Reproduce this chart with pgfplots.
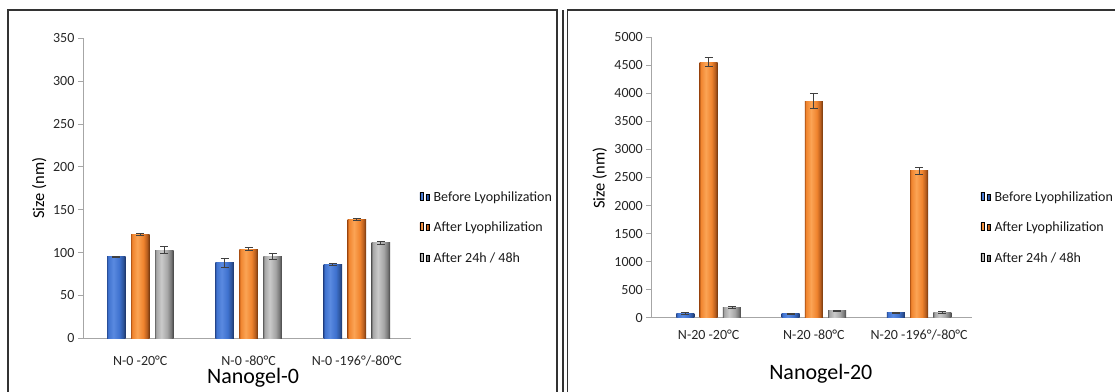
\documentclass[border=0pt]{standalone}
\usepackage{fontspec}
\setmainfont{Carlito}
\usepackage{pgfplots}
\pgfplotsset{compat=1.18}
\usepackage{pgfplotstable}

\definecolor{axgray}{HTML}{A6A6A6}
\definecolor{framec}{HTML}{333333}
\definecolor{errc}{HTML}{404040}

\definecolor{blL}{HTML}{2A4F9A}
\definecolor{blB}{HTML}{3F72CF}
\definecolor{blM}{HTML}{5A8AE0}
\definecolor{blD}{HTML}{2E569E}
\definecolor{blR}{HTML}{1C3466}
\definecolor{orL}{HTML}{B85A18}
\definecolor{orB}{HTML}{F0842E}
\definecolor{orM}{HTML}{FBA455}
\definecolor{orD}{HTML}{B85E1E}
\definecolor{orR}{HTML}{6E340C}
\definecolor{grL}{HTML}{6E6E6E}
\definecolor{grB}{HTML}{A6A6A6}
\definecolor{grM}{HTML}{CACACA}
\definecolor{grD}{HTML}{7A7A7A}
\definecolor{grR}{HTML}{444444}

\pgfdeclarehorizontalshading{sblue}{100bp}{color(0bp)=(blL); color(25bp)=(blL); color(28bp)=(blB); color(42bp)=(blM); color(58bp)=(blB); color(68bp)=(blD); color(75bp)=(blR); color(100bp)=(blR)}
\pgfdeclarehorizontalshading{sorange}{100bp}{color(0bp)=(orL); color(25bp)=(orL); color(28bp)=(orB); color(42bp)=(orM); color(58bp)=(orB); color(68bp)=(orD); color(75bp)=(orR); color(100bp)=(orR)}
\pgfdeclarehorizontalshading{sgray}{100bp}{color(0bp)=(grL); color(25bp)=(grL); color(28bp)=(grB); color(42bp)=(grM); color(58bp)=(grB); color(68bp)=(grD); color(75bp)=(grR); color(100bp)=(grR)}

% Nanogel-0
\pgfplotstableread{
x y e
0 95 0.8
1 88 5
2 86 1
}\ngzbefore
\pgfplotstableread{
x y e
0 121 1
1 104 2
2 138.5 1.5
}\ngzafter
\pgfplotstableread{
x y e
0 103 4
1 96 3.5
2 111.5 1.5
}\ngzday
% Nanogel-20
\pgfplotstableread{
x y e
0 75 10
1 72 10
2 85 10
}\ngtbefore
\pgfplotstableread{
x y e
0 4555 80
1 3860 130
2 2620 65
}\ngtafter
\pgfplotstableread{
x y e
0 185 20
1 120 15
2 88 20
}\ngtday

\pgfplotsset{
  common/.style={
    scale only axis,
    anchor=south west,
    axis x line*=bottom,
    axis y line*=left,
    axis line style={axgray, line width=0.8bp, -},
    xtick={0,1,2},
    xtick style={draw=none},
    ytick style={axgray, line width=0.8bp},
    major tick length=5bp,
    tick align=outside,
    ymin=0,
    xmax=2.5,
    /pgf/number format/assume math mode=true,
    /pgf/number format/1000 sep={},
    tick label style={font=\fontsize{14bp}{16bp}\selectfont, text=black!85},
    label style={text=black!90},
    every axis y label/.style={rotate=90, anchor=center, font=\fontsize{16.5bp}{18bp}\selectfont},
    every axis x label/.style={anchor=base, font=\fontsize{22bp}{24bp}\selectfont},
    legend cell align=left,
    legend style={draw=none, fill=none, inner sep=0pt, row sep=16.8bp,
      font=\fontsize{14bp}{16bp}\selectfont, text=black!90,
      nodes={text height=10bp, text depth=3.5bp, inner xsep=4.5bp, inner ysep=0bp}},
    legend image code/.code={\path[##1] (0bp,-0.5bp) rectangle (8bp,9.5bp);},
    error bars/y dir=both,
    error bars/y explicit,
    error bars/error bar style={errc, line width=0.9bp},
    error bars/error mark options={rotate=90, errc, mark size=4bp, line width=0.9bp},
  },
  bblue/.style={draw=none, shade, shading=sblue, shading angle=0},
  borange/.style={draw=none, shade, shading=sorange, shading angle=0},
  bgray/.style={draw=none, shade, shading=sgray, shading angle=0},
  b0/.style={restrict x to domain=-0.2:0.2},
  b1/.style={restrict x to domain=0.8:1.2},
  b2/.style={restrict x to domain=1.8:2.2},
}

\begin{document}
\begin{tikzpicture}
\useasboundingbox (0,0) rectangle (1115bp,392bp);

% frames
\draw[framec, line width=1.6bp] (8bp,-10bp) -- (8bp,382bp) -- (557bp,382bp) -- (557bp,-10bp);
\draw[framec, line width=1.2bp] (563bp,-10bp) -- (563bp,382bp);
\draw[framec, line width=1.4bp] (567.5bp,-10bp) -- (567.5bp,382bp) -- (1125bp,382bp);

% Left: Nanogel-0
\begin{axis}[common,
  at={(82.9bp,53.7bp)}, width=328.1bp, height=300bp,
  xmin=-0.53, ymax=350, ytick={0,50,...,350},
  ybar=5.5bp, bar width=18.5bp,
  xticklabels={N-0 -20°C, N-0 -80°C, N-0 -196°/-80°C},
  xticklabel style={yshift=-9bp},
  ylabel={Size (nm)},
  ylabel style={at={(axis description cs:-0.133,0.5)}},
  xlabel={Nanogel-0},
  xlabel style={at={(axis description cs:0.5185,-0.152)}},
  legend style={at={(1.026,0.490)}, anchor=north west},
]
\addplot[bblue, bar shift=-24bp, b0] table[x=x, y=y, y error=e] {\ngzbefore};
\addlegendentry{Before Lyophilization}
\addplot[bblue, bar shift=-24bp, b1, forget plot] table[x=x, y=y, y error=e] {\ngzbefore};
\addplot[bblue, bar shift=-24bp, b2, forget plot] table[x=x, y=y, y error=e] {\ngzbefore};
\addplot[borange, bar shift=0bp, b0] table[x=x, y=y, y error=e] {\ngzafter};
\addlegendentry{After Lyophilization}
\addplot[borange, bar shift=0bp, b1, forget plot] table[x=x, y=y, y error=e] {\ngzafter};
\addplot[borange, bar shift=0bp, b2, forget plot] table[x=x, y=y, y error=e] {\ngzafter};
\addplot[bgray, bar shift=24bp, b0] table[x=x, y=y, y error=e] {\ngzday};
\addlegendentry{After 24h / 48h}
\addplot[bgray, bar shift=24bp, b1, forget plot] table[x=x, y=y, y error=e] {\ngzday};
\addplot[bgray, bar shift=24bp, b2, forget plot] table[x=x, y=y, y error=e] {\ngzday};
\end{axis}

% Right: Nanogel-20
\begin{axis}[common,
  at={(651.3bp,74.3bp)}, width=320.4bp, height=280.4bp,
  xmin=-0.545, ymax=5000, ytick={0,500,...,5000},
  ybar=5.3bp, bar width=18bp,
  xticklabels={N-20 -20°C, N-20 -80°C, N-20 -196°/-80°C},
  xticklabel style={yshift=-4bp},
  ylabel={Size (nm)},
  ylabel style={at={(axis description cs:-0.161,0.497)}},
  xlabel={Nanogel-20},
  xlabel style={at={(axis description cs:0.529,-0.222)}},
  legend style={at={(1.0275,0.451)}, anchor=north west},
]
\addplot[bblue, bar shift=-23.3bp, b0] table[x=x, y=y, y error=e] {\ngtbefore};
\addlegendentry{Before Lyophilization}
\addplot[bblue, bar shift=-23.3bp, b1, forget plot] table[x=x, y=y, y error=e] {\ngtbefore};
\addplot[bblue, bar shift=-23.3bp, b2, forget plot] table[x=x, y=y, y error=e] {\ngtbefore};
\addplot[borange, bar shift=0bp, b0] table[x=x, y=y, y error=e] {\ngtafter};
\addlegendentry{After Lyophilization}
\addplot[borange, bar shift=0bp, b1, forget plot] table[x=x, y=y, y error=e] {\ngtafter};
\addplot[borange, bar shift=0bp, b2, forget plot] table[x=x, y=y, y error=e] {\ngtafter};
\addplot[bgray, bar shift=23.3bp, b0] table[x=x, y=y, y error=e] {\ngtday};
\addlegendentry{After 24h / 48h}
\addplot[bgray, bar shift=23.3bp, b1, forget plot] table[x=x, y=y, y error=e] {\ngtday};
\addplot[bgray, bar shift=23.3bp, b2, forget plot] table[x=x, y=y, y error=e] {\ngtday};
\end{axis}
\end{tikzpicture}
\end{document}
